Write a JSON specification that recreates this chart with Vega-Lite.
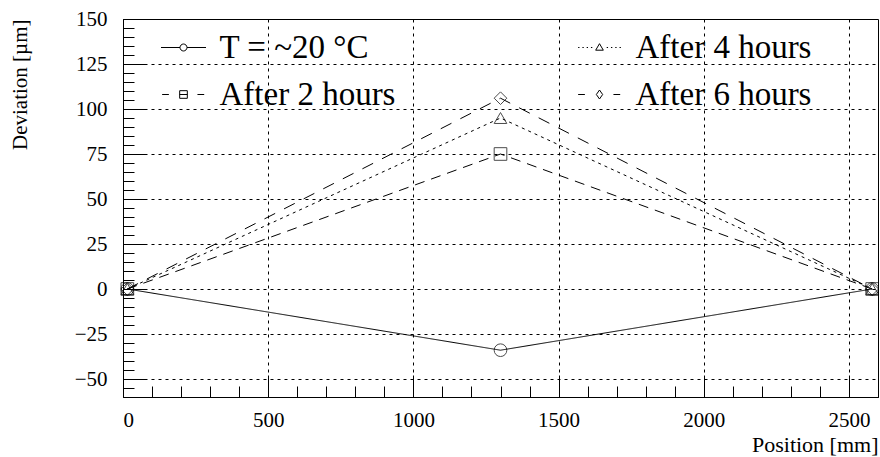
{
  "$schema": "https://vega.github.io/schema/vega-lite/v6.json",
  "width": 755,
  "height": 378,
  "autosize": "none",
  "padding": {"left": 123, "top": 19, "right": 2, "bottom": 60},
  "background": "white",
  "config": {
    "view": {"stroke": "black", "strokeWidth": 1},
    "font": "Liberation Serif",
    "axis": {
      "labelFont": "Liberation Serif", "titleFont": "Liberation Serif",
      "labelFontSize": 21, "titleFontSize": 21, "titleFontWeight": "normal",
      "labelColor": "black", "titleColor": "black",
      "domainColor": "black", "tickColor": "black", "gridColor": "black",
      "gridDash": [3, 4], "gridOpacity": 1, "gridWidth": 1
    },
    "legend": {"labelFont": "Liberation Serif"}
  },
  "data": {
    "values": [
      {"series": "T = ~20 °C", "pos": 15, "dev": 0},
      {"series": "T = ~20 °C", "pos": 1300, "dev": -34},
      {"series": "T = ~20 °C", "pos": 2580, "dev": 0},
      {"series": "After 2 hours", "pos": 15, "dev": 0},
      {"series": "After 2 hours", "pos": 1300, "dev": 75},
      {"series": "After 2 hours", "pos": 2580, "dev": 0},
      {"series": "After 4 hours", "pos": 15, "dev": 0},
      {"series": "After 4 hours", "pos": 1300, "dev": 95},
      {"series": "After 4 hours", "pos": 2580, "dev": 0},
      {"series": "After 6 hours", "pos": 15, "dev": 0},
      {"series": "After 6 hours", "pos": 1300, "dev": 106},
      {"series": "After 6 hours", "pos": 2580, "dev": 0}
    ]
  },
  "resolve": {"axis": {"x": "independent", "y": "independent"}, "scale": {"shape": "independent"}},
  "layer": [
    {
      "mark": {"type": "line", "color": "black", "strokeWidth": 1},
      "encoding": {
        "x": {"field": "pos", "type": "quantitative", "scale": {"domain": [0, 2600], "nice": false, "zero": false},
          "axis": {"orient": "bottom", "values": [0, 500, 1000, 1500, 2000, 2500], "format": "d", "tickSize": -22, "labelPadding": 34, "grid": true,
            "title": "Position [mm]", "titleFontSize": 22, "titleAnchor": "end", "titleAlign": "right", "titlePadding": 4}},
        "y": {"field": "dev", "type": "quantitative", "scale": {"domain": [-60, 150], "nice": false, "zero": false},
          "axis": {"orient": "left", "values": [-50, -25, 0, 25, 50, 75, 100, 125, 150], "format": "d", "tickSize": -22, "labelPadding": 38, "grid": true,
            "title": "Deviation [µm]", "titleAnchor": "end", "titleAlign": "right", "titlePadding": 44}},
        "strokeDash": {"field": "series", "type": "nominal",
          "scale": {"domain": ["T = ~20 °C", "After 2 hours", "After 4 hours", "After 6 hours"],
            "range": [[1, 0], [10, 7], [3, 4], [12, 10]]}, "legend": null},
        "detail": {"field": "series"}
      }
    },
    {
      "mark": {"type": "point", "color": "black", "filled": false, "size": 160, "strokeWidth": 1},
      "encoding": {
        "x": {"field": "pos", "type": "quantitative",
          "axis": {"orient": "bottom", "values": [100, 200, 300, 400, 600, 700, 800, 900, 1100, 1200, 1300, 1400, 1600, 1700, 1800, 1900, 2100, 2200, 2300, 2400, 2600], "tickSize": -11, "labels": false, "domain": false, "grid": false, "title": null}},
        "y": {"field": "dev", "type": "quantitative",
          "axis": {"orient": "left", "values": [-55, -45, -40, -35, -30, -20, -15, -10, -5, 5, 10, 15, 20, 30, 35, 40, 45, 55, 60, 65, 70, 80, 85, 90, 95, 105, 110, 115, 120, 130, 135, 140, 145], "tickSize": -11, "labels": false, "domain": false, "grid": false, "title": null}},
        "shape": {"field": "series", "type": "nominal",
          "scale": {"domain": ["T = ~20 °C", "After 2 hours", "After 4 hours", "After 6 hours"],
            "range": ["circle", "square", "triangle-up", "diamond"]}, "legend": null}
      }
    },
    {
      "mark": {"type": "point", "color": "black", "filled": false, "opacity": 0},
      "encoding": {
        "x": {"field": "pos", "type": "quantitative", "axis": null},
        "y": {"field": "dev", "type": "quantitative", "axis": null},
        "shape": {"field": "series", "type": "nominal",
          "scale": {"domain": ["T = ~20 °C", "After 4 hours", "After 2 hours", "After 6 hours"],
            "range": [
              "M-1,0H-0.155M0.155,0H1M0.155,0A0.155,0.155 0 1 1 -0.155,0A0.155,0.155 0 1 1 0.155,0Z",
              "M-0.95,0h0.06M-0.76,0h0.06M-0.57,0h0.06M-0.38,0h0.06M0.32,0h0.06M0.51,0h0.06M0.70,0h0.06M0.89,0h0.06M0,-0.17L0.17,0.12L-0.17,0.12Z",
              "M-0.95,0H-0.65M0.62,0H0.92M-0.17,-0.17H0.17V0.17H-0.17ZM-0.17,0H0.17",
              "M-0.95,0H-0.65M0.62,0H0.92M0,-0.2L0.14,0L0,0.2L-0.14,0Z"
            ]},
          "legend": {
            "orient": "none", "legendX": 37.5, "legendY": 5.5, "direction": "horizontal", "columns": 2,
            "title": null, "padding": 0, "rowPadding": 7, "columnPadding": 180,
            "symbolSize": 2025, "symbolOpacity": 1, "symbolStrokeColor": "black", "symbolStrokeWidth": 1,
            "symbolFillColor": "transparent",
            "labelFontSize": 33, "labelColor": "black", "labelOffset": 13, "labelLimit": 400
          }
        }
      }
    }
  ]
}
